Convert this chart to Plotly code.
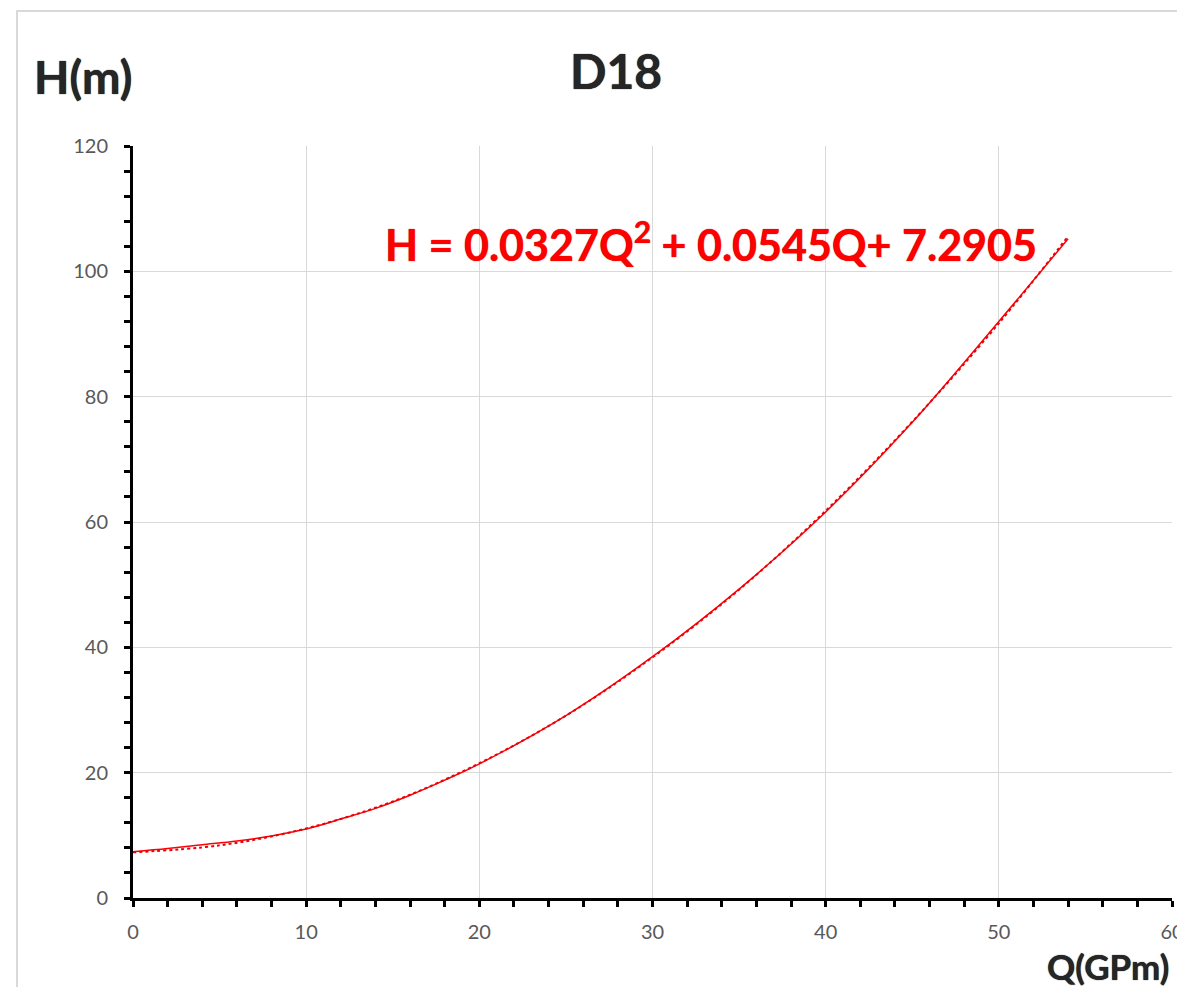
import plotly.graph_objects as go

q_data = [0, 2, 4, 6, 8, 10, 12, 14, 16, 18, 20, 25, 30, 35, 40, 45, 50, 54]
h_data = [7.4, 7.9, 8.5, 9.1, 9.9, 11.0, 12.6, 14.3, 16.4, 18.8, 21.4, 29.1, 38.5, 49.3, 61.6, 75.9, 92.0, 105.2]

# Polynomial trendline
q_trend = [0, 5, 10, 15, 20, 25, 30, 35, 40, 45, 50, 54]
h_trend = [7.29, 8.4, 11.1, 15.4, 21.5, 29.1, 38.4, 49.2, 61.8, 76.0, 91.7, 105.6]

title_text = "D18"
y_title = "H(m)"
x_title = "Q(GPm)"
equation = "H = 0.0327Q<sup>2</sup> + 0.0545Q+ 7.2905"

FONT = "Lato"

fig = go.Figure()
fig.add_trace(go.Scatter(x=q_data, y=h_data, mode="lines",
                         line=dict(color="#FF0000", width=1.5, shape="spline"),
                         showlegend=False))
fig.add_trace(go.Scatter(x=q_trend, y=h_trend, mode="lines",
                         line=dict(color="#E8000B", width=2, dash="dot", shape="spline"),
                         showlegend=False))

axis_common = dict(
    showline=True, linecolor="black", linewidth=3,
    ticks="outside", ticklen=6, tickwidth=3, tickcolor="black",
    showgrid=True, gridcolor="#D9D9D9", gridwidth=1,
    zeroline=False, automargin=False,
    tickfont=dict(family=FONT, size=20, color="#595959"),
)

fig.update_xaxes(range=[0, 60], dtick=10, tick0=0,
                 minor=dict(dtick=2, ticks="outside", ticklen=6, tickwidth=3,
                            tickcolor="black", showgrid=False),
                 ticklabelstandoff=8,
                 **axis_common)
fig.update_yaxes(range=[0, 120], dtick=20, tick0=0,
                 minor=dict(dtick=4, ticks="outside", ticklen=6, tickwidth=3,
                            tickcolor="black", showgrid=False),
                 ticklabelstandoff=12,
                 **axis_common)

fig.add_annotation(x=33.4, y=104.7, xref="x", yref="y", text=equation,
                   showarrow=False, xanchor="center", yanchor="middle",
                   font=dict(family=FONT, size=43, color="#FF0000", weight="bold",
                             shadow="0px 0px 1px #B00000"))
fig.add_annotation(x=0.465, y=1.101, xref="paper", yref="paper", text=title_text,
                   showarrow=False, xanchor="center", yanchor="middle",
                   font=dict(family=FONT, size=48, color="#262626", weight="bold",
                             shadow="0px 0px 1px #000000"))
fig.add_annotation(x=-0.048, y=1.093, xref="paper", yref="paper", text=y_title,
                   showarrow=False, xanchor="center", yanchor="middle",
                   font=dict(family=FONT, size=46, color="#262626", weight="bold",
                             shadow="0px 0px 1px #000000"))
fig.add_annotation(x=0.938, y=-0.09, xref="paper", yref="paper", text=x_title,
                   showarrow=False, xanchor="center", yanchor="middle",
                   font=dict(family=FONT, size=35, color="#262626", weight="bold",
                             shadow="0px 0px 1px #000000"))

# light frame around the chart area (extends past right/bottom edges)
fig.add_shape(type="rect", xref="paper", yref="paper",
              x0=(17 - 133) / 1039, x1=1.2, y0=-0.2, y1=(898 - 11) / 752,
              line=dict(color="#D9D9D9", width=2), layer="below")

# page has an 8px body margin: compensate so the plot area lands where the reference has it
fig.update_layout(
    width=1177, height=979,
    margin=dict(l=125, r=13, t=138, b=89),
    plot_bgcolor="white", paper_bgcolor="white",
    font=dict(family=FONT),
)

fig.write_html("out.html")
